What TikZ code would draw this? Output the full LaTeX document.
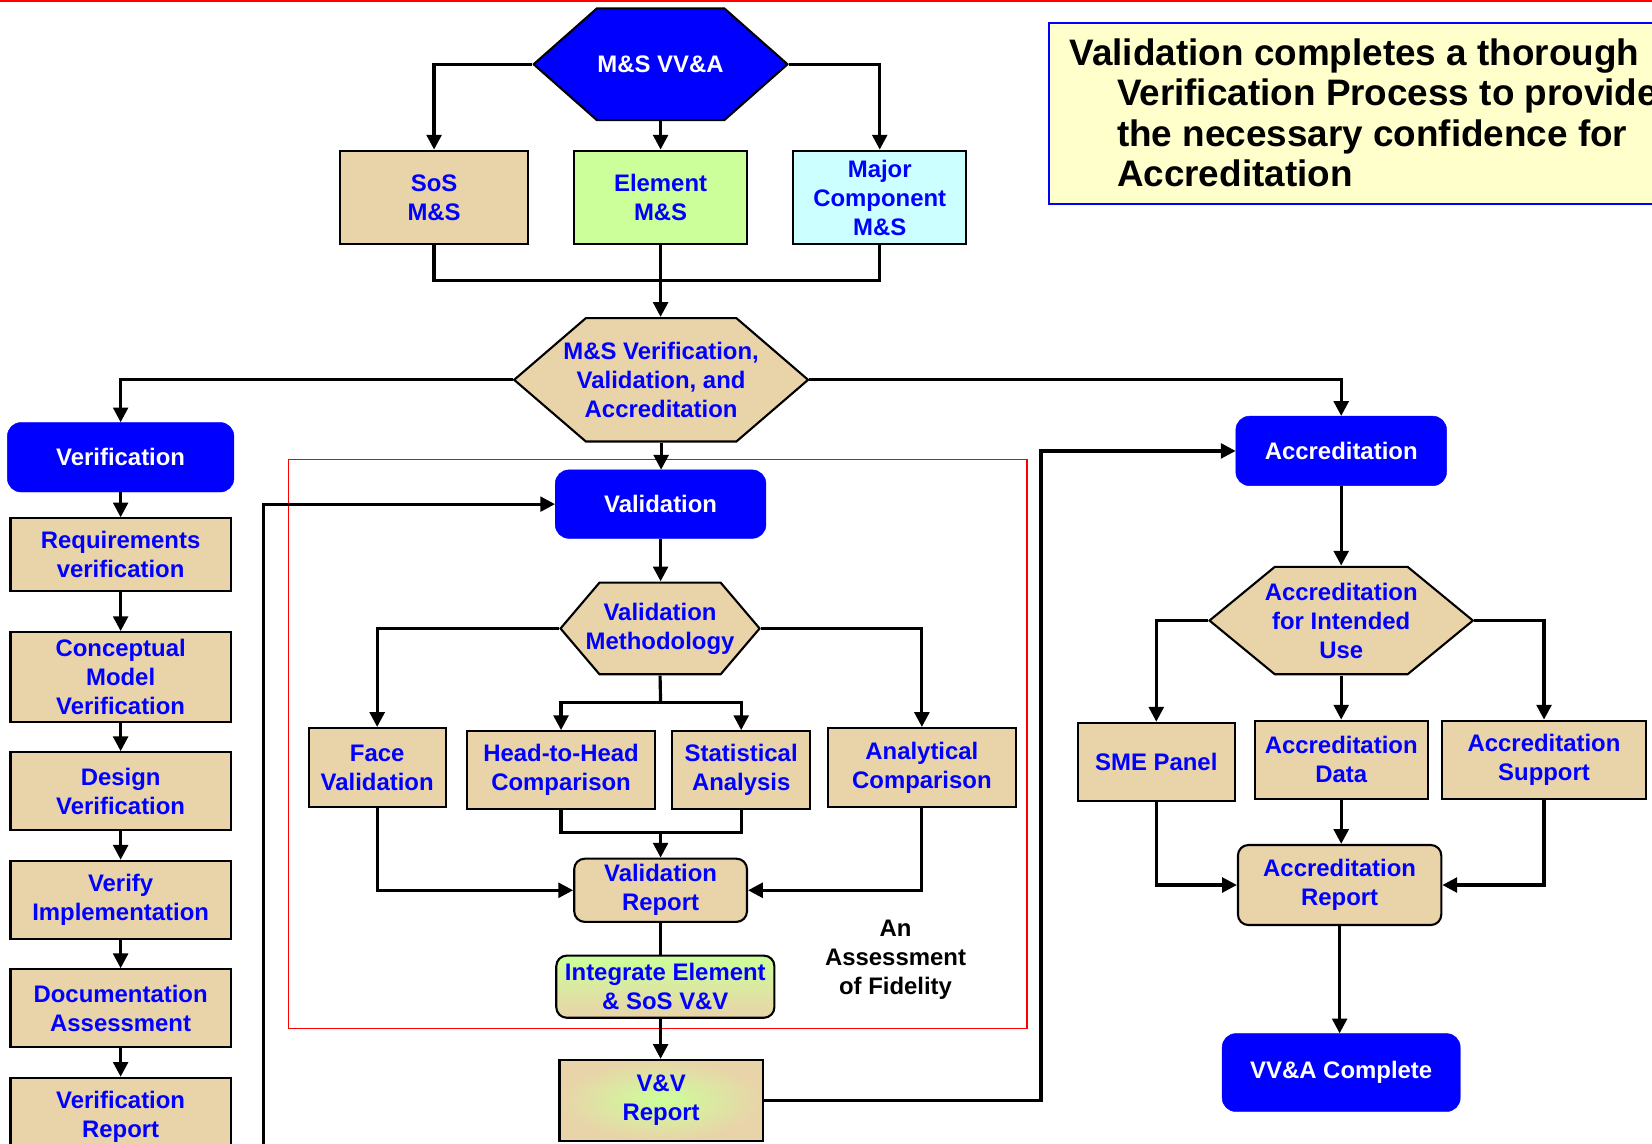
\documentclass[tikz,border=0pt]{standalone}
\usepackage{fontspec}
\setmainfont{Liberation Sans}
\usetikzlibrary{arrows.meta,calc}
\definecolor{mytan}{HTML}{E9D3A9}
\definecolor{lgreen}{HTML}{CCFF99}
\definecolor{lcyan}{HTML}{CCFFFF}
\definecolor{lyellow}{HTML}{FFFFCC}
\definecolor{pblue}{HTML}{0000FF}
\begin{document}
\begin{tikzpicture}[x=1pt,y=-1pt,
  every node/.style={font=\bfseries\fontsize{22.7}{27.5}\selectfont, align=center, inner sep=0pt},
  box/.style={draw=black, line width=2pt, fill=mytan, text=pblue},
  rbox/.style={box, rounded corners=10pt},
  bluebox/.style={draw=pblue, fill=pblue, text=white, rounded corners=13pt},
  hexa/.style 2 args={text=pblue, path picture={
     \filldraw[line width=2pt, draw=black, fill=#2]
       ($(path picture bounding box.north west)+(#1,1)$) --
       ($(path picture bounding box.north east)+(-#1,1)$) --
       ($(path picture bounding box.east)+(-1,0)$) --
       ($(path picture bounding box.south east)+(-#1,-1)$) --
       ($(path picture bounding box.south west)+(#1,-1)$) --
       ($(path picture bounding box.west)+(1,0)$) -- cycle;}},
  arr/.style={line width=3pt, -{Triangle[length=14pt,width=14pt]}},
  ln/.style={line width=3pt},
  titletext/.style={anchor=base west, text=black, font=\bfseries\fontsize{35}{38.5}\selectfont, align=left}
]
\useasboundingbox (0,0) rectangle (1568,1085);
\clip (0,0) rectangle (1568,1085);
\fill[white] (0,0) rectangle (1568,1085);
\draw[red, line width=2.5pt] (0,1) -- (1568,1);

% red frame
\draw[red, line width=1.5pt] (274,436) rectangle (975,976);

% title
\node[draw=pblue, fill=lyellow, line width=2pt, anchor=north west, minimum width=640pt, minimum height=172pt] (title) at (995,21) {};
\node[titletext] (t1) at (1015,62) {Validation completes a thorough};
\node[titletext] (t2) at (1060,100.5) {Verification Process to provide};
\node[titletext] (t3) at (1060,139) {the necessary confidence for};
\node[titletext] (t4) at (1060,177) {Accreditation};

% top
\node[hexa={61}{pblue}, text=white, minimum width=243pt, minimum height=108pt] (h1) at (627,61) {M\&S VV\&A};
\node[box, minimum width=178pt, minimum height=89pt] (sos) at (412,187.5) {SoS\\M\&S};
\node[box, fill=lgreen, minimum width=164pt, minimum height=89pt] (elem) at (627,187.5) {Element\\M\&S};
\node[box, fill=lcyan, minimum width=164pt, minimum height=89pt] (major) at (835,187.5) {Major\\Component\\M\&S};
\node[hexa={69}{mytan}, minimum width=281pt, minimum height=119pt] (h2) at (627.5,360.5) {M\&S Verification,\\Validation, and\\Accreditation};

% left column
\node[bluebox, minimum width=215pt, minimum height=66pt] (verif) at (114.5,434) {Verification};
\node[box, minimum width=209pt, minimum height=69pt] (req) at (114.5,526.5) {Requirements\\verification};
\node[box, minimum width=209pt, minimum height=85pt] (conc) at (114.5,642.5) {Conceptual\\Model\\Verification};
\node[box, minimum width=209pt, minimum height=74pt] (design) at (114.5,751) {Design\\Verification};
\node[box, minimum width=209pt, minimum height=74pt] (verimpl) at (114.5,854) {Verify\\Implementation};
\node[box, minimum width=209pt, minimum height=74pt] (doc) at (114.5,957) {Documentation\\Assessment};
\node[box, minimum width=209pt, minimum height=74pt] (vrep) at (114.5,1060) {Verification\\Report};

% middle
\node[bluebox, minimum width=200pt, minimum height=65pt] (valid) at (627,478.5) {Validation};
\node[hexa={38}{mytan}, minimum width=191pt, minimum height=89pt] (h3) at (626.5,596.5) {Validation\\Methodology};
\node[box, minimum width=130pt, minimum height=75pt] (face) at (358,728.5) {Face\\Validation};
\node[box, minimum width=179pt, minimum height=74pt] (h2h) at (532.5,731) {Head-to-Head\\Comparison};
\node[box, minimum width=131pt, minimum height=74pt] (stat) at (703.5,731) {Statistical\\Analysis};
\node[box, minimum width=178pt, minimum height=75pt] (anal) at (875,728.5) {Analytical\\Comparison};
\node[rbox, minimum width=164pt, minimum height=60pt] (vrpt) at (627,845) {Validation\\Report};
\node[rbox, top color=lgreen, bottom color=mytan, minimum width=207pt, minimum height=59pt] (integ) at (631.5,936.5) {Integrate Element\\\& SoS V\&V};
\node[box, inner color=lgreen, outer color=mytan, minimum width=193pt, minimum height=77pt] (vvrep) at (627.5,1044.5) {V\&V\\Report};
\node[text=black] (fid) at (850,911) {An\\Assessment\\of Fidelity};

% right
\node[bluebox, minimum width=200pt, minimum height=66pt] (accr) at (1273,428) {Accreditation};
\node[hexa={63}{mytan}, minimum width=252pt, minimum height=104pt] (h4) at (1273,589) {Accreditation\\for Intended\\Use};
\node[box, minimum width=149pt, minimum height=74pt] (sme) at (1097.5,723) {SME Panel};
\node[box, minimum width=164pt, minimum height=74pt] (adata) at (1273,721) {Accreditation\\Data};
\node[box, minimum width=193pt, minimum height=74pt] (asup) at (1465.5,721) {Accreditation\\Support};
\node[rbox, minimum width=193pt, minimum height=76pt] (arep) at (1271.5,840) {Accreditation\\Report};
\node[bluebox, minimum width=226pt, minimum height=74pt] (vvac) at (1273,1018) {VV\&A Complete};

% junctions
\coordinate (j1) at (627,266);
\coordinate (j2) at (627,667);
\coordinate (j3) at (627,790);
\coordinate (fb) at (250,1120);
\coordinate (c1) at (988,700);

% connectors
\draw[arr] (h1.west) -| (sos.north);
\draw[arr] (h1.east) -| (major.north);
\draw[arr] (h1.south) -- (elem.north);
\draw[ln] (sos.south) |- (j1) -| (major.south);
\draw[ln] (elem.south) -- (j1);
\draw[arr] (j1) -- (j1 |- h2.north);

\draw[arr] (h2.west) -| (verif.north);
\draw[arr] (h2.east) -| (accr.north);
\draw[arr] (h2.south) -- (h2.south |- valid.north);

\foreach \a/\b in {verif/req, req/conc, conc/design, design/verimpl, verimpl/doc, doc/vrep}
  \draw[arr] (\a.south) -- (\b.north);

\draw[arr] (fb) |- (valid.west);
\draw[arr] (valid.south) -- (valid.south |- h3.north);
\draw[arr] (h3.west) -| (face.north);
\draw[arr] (h3.east) -| (anal.north);
\draw[ln] (h3.south) -- (j2);
\draw[arr] (j2) -| (h2h.north);
\draw[arr] (j2) -| (stat.north);
\draw[ln] (h2h.south) |- (j3) -| (stat.south);
\draw[arr] (j3) -- (vrpt.north);
\draw[arr] (face.south) |- (vrpt.west);
\draw[arr] (anal.south) |- (vrpt.east);
\draw[ln] (vrpt.south) -- (vrpt.south |- integ.north);
\draw[arr] (vrpt.south |- integ.south) -- (vrpt.south |- vvrep.north);
\draw[arr] (vvrep.east) -| (c1) |- (accr.west);

\draw[arr] (accr.south) -- (h4.north);
\draw[arr] (h4.west) -| (sme.north);
\draw[arr] (h4.east) -| (asup.north);
\draw[arr] (h4.south) -- (adata.north);
\draw[arr] (sme.south) |- (arep.west);
\draw[arr] (asup.south) |- (arep.east);
\draw[arr] (adata.south) -- (adata.south |- arep.north);
\draw[arr] (arep.south) -- (arep.south |- vvac.north);
\end{tikzpicture}
\end{document}
